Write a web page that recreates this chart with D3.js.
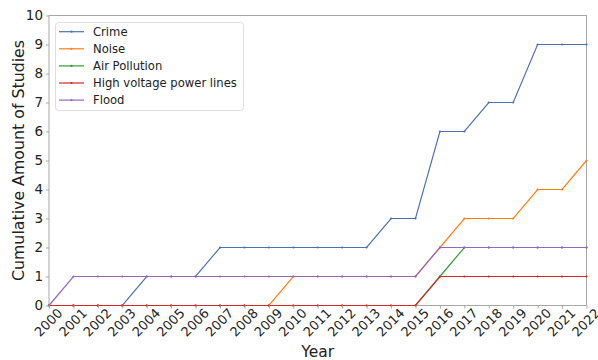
<!DOCTYPE html>
<html>
<head>
<meta charset="utf-8">
<script src="https://cdn.jsdelivr.net/npm/d3@7"></script>
<style>
  html, body { margin: 0; padding: 0; background: #fff; }
  svg { display: block; font-family: "DejaVu Sans", sans-serif; }
</style>
</head>
<body>
<svg id="chart" width="598" height="360"></svg>
<script>
const years = [2000,2001,2002,2003,2004,2005,2006,2007,2008,2009,2010,2011,2012,2013,2014,2015,2016,2017,2018,2019,2020,2021,2022];
const crime     = [0,0,0,0,1,1,1,2,2,2,2,2,2,2,3,3,6,6,7,7,9,9,9];
const noise     = [0,0,0,0,0,0,0,0,0,0,1,1,1,1,1,1,2,3,3,3,4,4,5];
const airPollution = [0,0,0,0,0,0,0,0,0,0,0,0,0,0,0,0,1,2,2,2,2,2,2];
const powerLines = [0,0,0,0,0,0,0,0,0,0,0,0,0,0,0,0,1,1,1,1,1,1,1];
const flood     = [0,1,1,1,1,1,1,1,1,1,1,1,1,1,1,1,2,2,2,2,2,2,2];
const seriesNames = ["Crime","Noise","Air Pollution","High voltage power lines","Flood"];
const seriesColors = ["#4c72b0","#ff7f0e","#2ca02c","#d62728","#9467bd"];
const yTicks = [0,1,2,3,4,5,6,7,8,9,10];

const series = [crime, noise, airPollution, powerLines, flood];

const svg = d3.select("#chart");
const m = {left: 49, right: 586.5, top: 15.5, bottom: 305.5};
const x = d3.scaleLinear().domain([2000, 2022]).range([m.left, m.right]);
const y = d3.scaleLinear().domain([0, 10]).range([m.bottom, m.top]);

// frame
svg.append("rect").attr("x", m.left).attr("y", m.top)
  .attr("width", m.right - m.left).attr("height", m.bottom - m.top)
  .attr("fill","none").attr("stroke","#a8a8a8").attr("stroke-width",1);

// lines
const line = d3.line().x((d,i) => x(years[i])).y(d => y(d));
series.forEach((s, k) => {
  svg.append("path").datum(s)
    .attr("fill","none").attr("stroke", seriesColors[k])
    .attr("stroke-width", 1.2).attr("d", line);
  svg.append("g").selectAll("circle").data(s).join("circle")
    .attr("cx",(d,i)=>x(years[i])).attr("cy", d=>y(d))
    .attr("r", 1.1).attr("fill", seriesColors[k]);
});

// y axis
const yAxis = svg.append("g").attr("transform", `translate(${m.left},0)`)
  .call(d3.axisLeft(y).tickValues(yTicks).tickSize(3).tickPadding(3));
yAxis.select(".domain").remove();
yAxis.selectAll(".tick line").attr("stroke","#a8a8a8");
yAxis.selectAll(".tick text").attr("font-size", 13.5).attr("fill","#222")
  .attr("font-family","DejaVu Sans");

// x axis
const xAxis = svg.append("g").attr("transform", `translate(0,${m.bottom})`)
  .call(d3.axisBottom(x).tickValues(years).tickSize(3).tickFormat(d3.format("d")));
xAxis.select(".domain").remove();
xAxis.selectAll(".tick line").attr("stroke","#a8a8a8");
xAxis.selectAll(".tick text")
  .attr("font-size", 13).attr("fill","#222").attr("font-family","DejaVu Sans")
  .attr("text-anchor","middle").attr("dy", null).attr("y", null)
  .attr("dominant-baseline","central")
  .attr("transform","translate(-1,17) rotate(-45)");

// axis titles
svg.append("text").attr("x", (m.left+m.right)/2).attr("y", 357)
  .attr("text-anchor","middle").attr("font-size",15.5).attr("fill","#222").text("Year");
svg.append("text").attr("transform",`translate(24,160.5) rotate(-90)`)
  .attr("text-anchor","middle").attr("font-size",15.8).attr("fill","#222")
  .text("Cumulative Amount of Studies");

// legend
const lg = svg.append("g");
lg.append("rect").attr("x",55.5).attr("y",22.5).attr("width",188).attr("height",88)
  .attr("rx",3).attr("fill","#fff").attr("stroke","#dddddd");
seriesNames.forEach((n,k) => {
  const yy = 31.7 + k*17.1;
  lg.append("line").attr("x1",59).attr("x2",84).attr("y1",yy).attr("y2",yy)
    .attr("stroke",seriesColors[k]).attr("stroke-width",1.2);
  lg.append("circle").attr("cx",71.5).attr("cy",yy).attr("r",1.1).attr("fill",seriesColors[k]);
  lg.append("text").attr("x",93).attr("y",yy).attr("dominant-baseline","central")
    .attr("font-size",11.6).attr("fill","#222").text(n);
});
</script>
</body>
</html>
